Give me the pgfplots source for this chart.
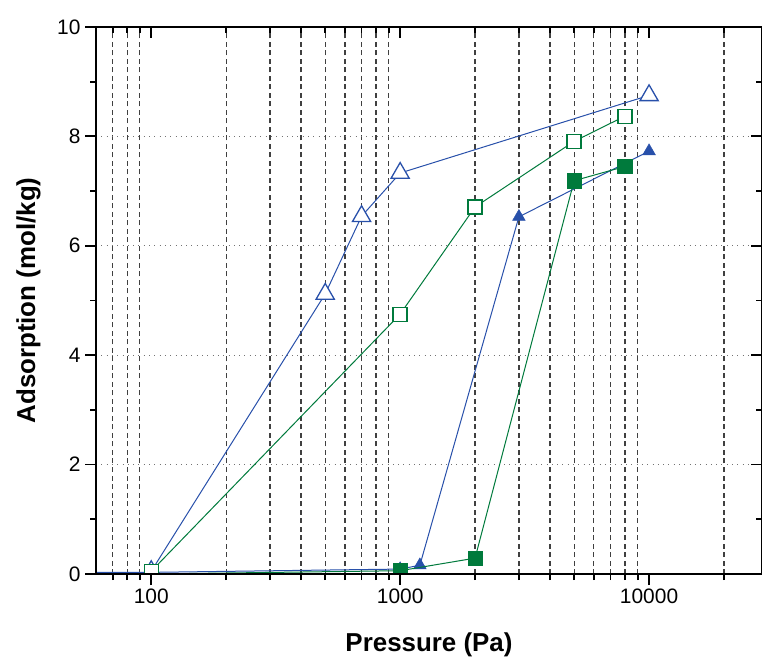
\documentclass[border=0pt]{standalone}
\usepackage{pgfplots}
\pgfplotsset{compat=1.18}
\usepackage{fontspec}
\setmainfont{Liberation Sans}
\definecolor{oblue}{RGB}{40,80,170}
\definecolor{ogreen}{RGB}{0,122,60}
\pgfplotsset{
  commonax/.style={
    at={(0,0)}, anchor=south west,
    scale only axis, width=666bp, height=547bp,
    xmin=60, xmax=28430, ymin=0, ymax=10,
    xtick={100,1000,10000}, xticklabels={100,1000,10000},
    minor xtick={70,80,90,200,300,400,500,600,700,800,900,2000,3000,4000,5000,6000,7000,8000,9000,20000},
    ytick={0,2,4,6,8,10}, minor ytick={1,3,5,7,9},
    major tick length=11bp, minor tick length=6bp,
  }
}
\begin{document}
\begin{tikzpicture}
\useasboundingbox (-96bp,-83bp) rectangle (666bp,574bp);
\begin{semilogxaxis}[
  commonax,
  xtick pos=left, ytick pos=left,
  tick align=outside,
  tick style={black, line width=1.8bp},
  axis line style={black, line width=2.2bp},
  xminorgrids=true, ymajorgrids=true,
  minor grid style={black!75, line width=1.2bp, dash pattern=on 5bp off 3.5bp},
  major grid style={black!55, line width=1bp, dash pattern=on 1bp off 4.3bp},
  clip marker paths=true,
  /pgf/number format/assume math mode=true,
  tick label style={font=\fontsize{21}{25}\selectfont},
  yticklabel style={xshift=-1bp},
  label style={font=\bfseries\fontsize{26}{30}\selectfont},
  xlabel={Pressure (Pa)},
  ylabel={Adsorption (mol/kg)},
  xlabel style={at={([yshift=-77bp]axis description cs:0.5,0)}, anchor=base},
  ylabel style={at={([xshift=-61bp]axis description cs:0,0.5)}, anchor=base},
]
% open blue triangles
\addplot[oblue, line width=1bp, mark=triangle*, mark size=10.5bp,
  mark options={fill=white, draw=oblue, line width=1.3bp}]
  coordinates {(100,0.05) (500,5.12) (700,6.54) (1000,7.33) (10000,8.75)};
% filled blue triangles
\addplot[oblue, line width=1bp, mark=triangle*, mark size=7.3bp,
  mark options={fill=oblue, draw=oblue, line width=0.5bp}]
  coordinates {(10,0.03) (100,0.03) (1000,0.09) (1200,0.16) (3000,6.53) (10000,7.73)};
% filled green squares
\addplot[ogreen, line width=1bp, mark=square*, mark size=7.2bp,
  mark options={fill=ogreen, draw=ogreen, line width=0.5bp}]
  coordinates {(100,0.0) (1000,0.06) (2000,0.29) (5000,7.19) (8000,7.45)};
% open green squares
\addplot[ogreen, line width=1bp, mark=square*, mark size=7bp,
  mark options={fill=white, draw=ogreen, line width=1.3bp}]
  coordinates {(100,0.05) (1000,4.75) (2000,6.71) (5000,7.91) (8000,8.37)};
\end{semilogxaxis}
\begin{semilogxaxis}[
  commonax,
  xtick pos=right, ytick pos=right,
  tick align=inside,
  tick style={black, line width=1.8bp},
  axis line style={black, line width=2.2bp},
  xticklabels={}, yticklabels={},
]
\end{semilogxaxis}
\end{tikzpicture}
\end{document}
